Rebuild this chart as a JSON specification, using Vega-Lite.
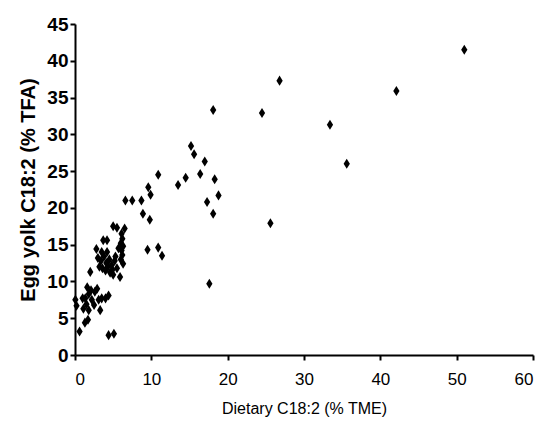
{
  "$schema": "https://vega.github.io/schema/vega-lite/v6.json",
  "autosize": "none",
  "width": 458,
  "height": 331,
  "padding": {"left": 75, "top": 24, "right": 10, "bottom": 80},
  "background": "white",
  "config": {"view": {"stroke": null}, "font": "Liberation Sans"},
  "data": {"values": [
    {"x": 51.0, "y": 41.5}, {"x": 26.8, "y": 37.3}, {"x": 42.1, "y": 35.9}, {"x": 24.5, "y": 32.9},
    {"x": 33.4, "y": 31.3}, {"x": 35.6, "y": 26.0}, {"x": 25.6, "y": 17.9},
    {"x": 18.1, "y": 33.3}, {"x": 15.2, "y": 28.4}, {"x": 15.6, "y": 27.3}, {"x": 17.0, "y": 26.3},
    {"x": 10.9, "y": 24.5}, {"x": 16.4, "y": 24.6}, {"x": 14.5, "y": 24.1}, {"x": 18.3, "y": 23.9},
    {"x": 13.5, "y": 23.1}, {"x": 9.6, "y": 22.8}, {"x": 9.9, "y": 21.8}, {"x": 18.8, "y": 21.7},
    {"x": 8.7, "y": 21.0}, {"x": 17.3, "y": 20.8}, {"x": 8.9, "y": 19.2}, {"x": 18.1, "y": 19.2},
    {"x": 9.8, "y": 18.4}, {"x": 9.5, "y": 14.3}, {"x": 10.9, "y": 14.6}, {"x": 11.4, "y": 13.5},
    {"x": 17.6, "y": 9.7}, {"x": 6.6, "y": 21.0}, {"x": 7.5, "y": 21.0},
    {"x": 5.0, "y": 17.5}, {"x": 5.5, "y": 17.3}, {"x": 6.5, "y": 17.2},
    {"x": 3.7, "y": 15.6}, {"x": 4.2, "y": 15.6},
    {"x": 6.1, "y": 16.5}, {"x": 6.2, "y": 15.8}, {"x": 6.0, "y": 15.2}, {"x": 6.3, "y": 14.8},
    {"x": 6.1, "y": 14.2}, {"x": 6.2, "y": 13.6}, {"x": 6.0, "y": 13.0}, {"x": 6.3, "y": 12.4},
    {"x": 5.7, "y": 14.5}, {"x": 2.8, "y": 14.4}, {"x": 3.5, "y": 14.0}, {"x": 4.2, "y": 14.0},
    {"x": 3.0, "y": 13.2}, {"x": 3.4, "y": 12.8}, {"x": 3.8, "y": 13.4}, {"x": 4.1, "y": 12.5},
    {"x": 4.5, "y": 13.0}, {"x": 4.8, "y": 12.2}, {"x": 5.2, "y": 12.8}, {"x": 5.5, "y": 11.8},
    {"x": 3.6, "y": 11.8}, {"x": 4.0, "y": 11.5}, {"x": 4.6, "y": 11.2}, {"x": 5.0, "y": 10.9},
    {"x": 3.2, "y": 12.0}, {"x": 4.3, "y": 12.0}, {"x": 5.3, "y": 13.4}, {"x": 4.9, "y": 11.6},
    {"x": 5.9, "y": 10.6}, {"x": 2.0, "y": 11.3},
    {"x": 1.6, "y": 9.2}, {"x": 2.1, "y": 8.8}, {"x": 2.6, "y": 8.6}, {"x": 2.9, "y": 9.0},
    {"x": 1.8, "y": 8.3}, {"x": 4.4, "y": 8.1}, {"x": 3.5, "y": 7.7}, {"x": 1.0, "y": 7.7},
    {"x": 1.35, "y": 7.7}, {"x": 2.2, "y": 7.5}, {"x": 3.1, "y": 7.5}, {"x": 4.0, "y": 7.7},
    {"x": 1.1, "y": 6.3}, {"x": 1.8, "y": 6.1}, {"x": 3.3, "y": 6.1}, {"x": 1.3, "y": 4.4},
    {"x": 1.7, "y": 4.8}, {"x": 0.6, "y": 3.2}, {"x": 4.4, "y": 2.7}, {"x": 5.1, "y": 2.9},
    {"x": 0.05, "y": 7.5}, {"x": 0.2, "y": 6.7}, {"x": 2.5, "y": 6.8}, {"x": 1.5, "y": 6.9}
  ]},
  "mark": {
    "type": "point",
    "shape": "M0,-1.2L0.75,0L0,1.2L-0.75,0Z",
    "filled": true,
    "color": "black",
    "opacity": 1,
    "size": 70
  },
  "encoding": {
    "x": {
      "field": "x", "type": "quantitative",
      "scale": {"domain": [0, 60], "nice": false, "zero": true},
      "axis": {
        "values": [0, 10, 20, 30, 40, 50, 60],
        "grid": false,
        "domainColor": "black", "domainWidth": 2,
        "tickColor": "black", "tickWidth": 2, "tickSize": 5,
        "labelFontSize": 17, "labelColor": "black", "labelPadding": 11,
        "title": "Dietary C18:2 (% TME)",
        "titleFontSize": 16, "titleFontWeight": "normal", "titleColor": "black",
        "titlePadding": 13
      }
    },
    "y": {
      "field": "y", "type": "quantitative",
      "scale": {"domain": [0, 45], "nice": false},
      "axis": {
        "values": [0, 5, 10, 15, 20, 25, 30, 35, 40, 45],
        "grid": false,
        "domainColor": "black", "domainWidth": 2,
        "tickColor": "black", "tickWidth": 2, "tickSize": 5,
        "labelFontSize": 19, "labelFontWeight": "bold", "labelColor": "black", "labelPadding": 2,
        "title": "Egg yolk C18:2 (% TFA)",
        "titleFontSize": 20, "titleFontWeight": "bold", "titleColor": "black",
        "titlePadding": 8
      }
    }
  }
}
